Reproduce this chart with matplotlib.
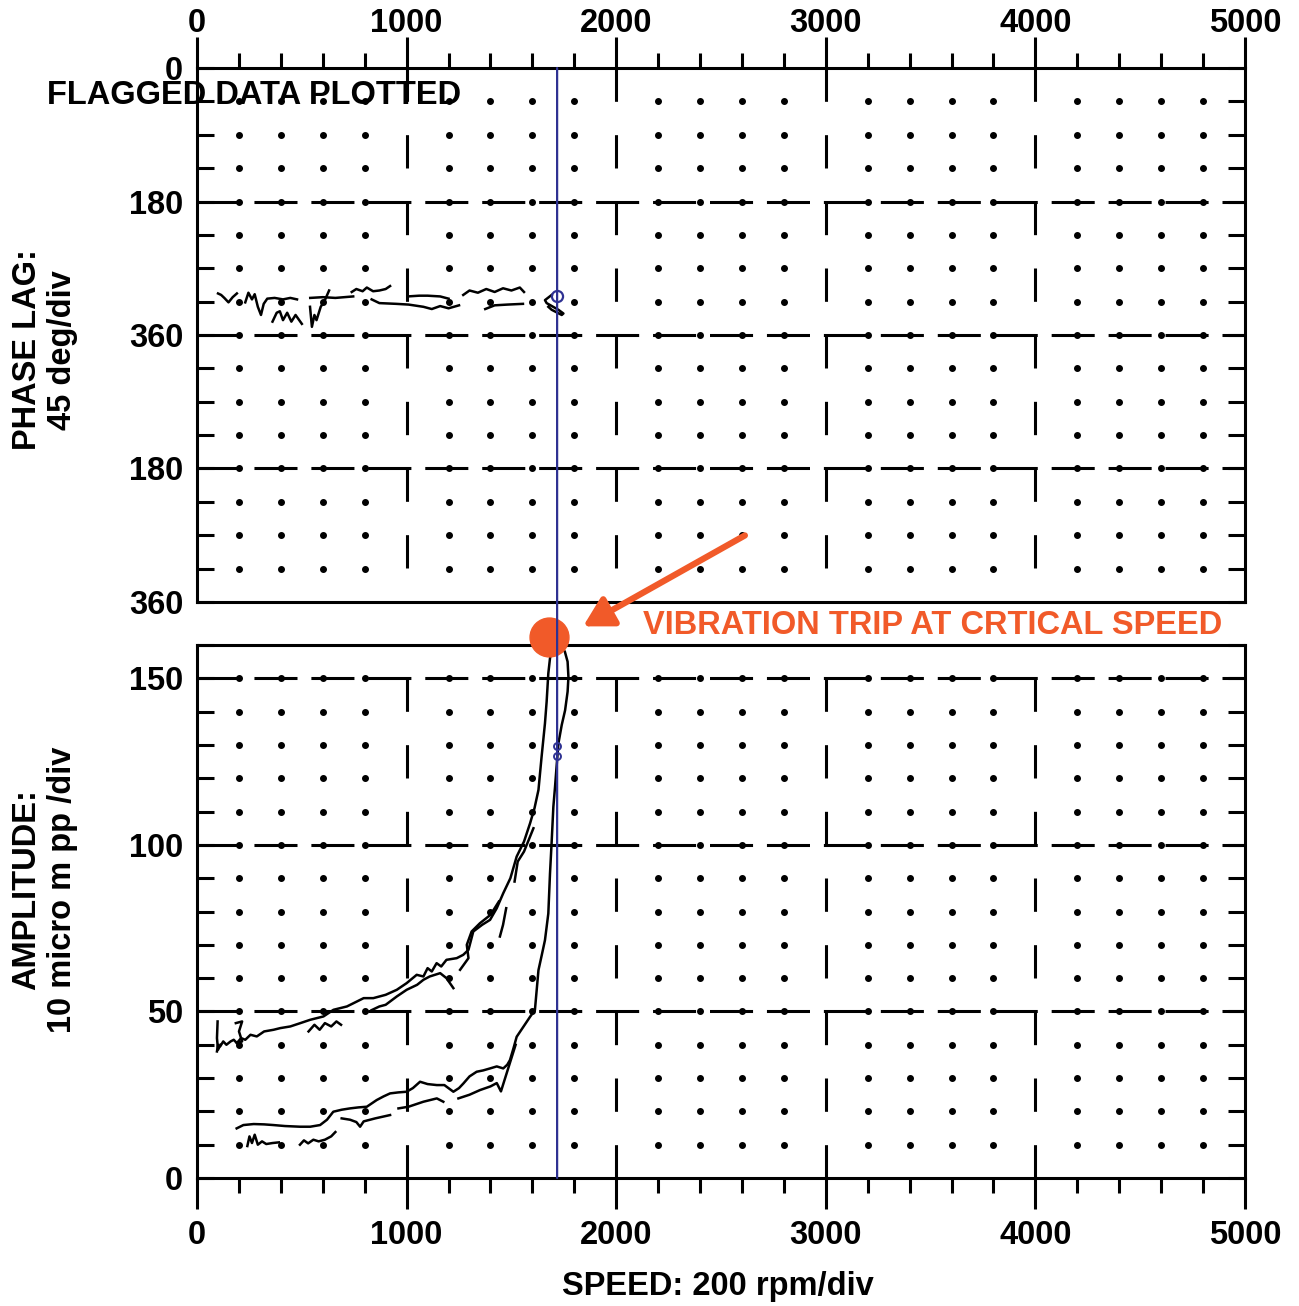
import numpy as np
import matplotlib.pyplot as plt
from matplotlib.patches import ConnectionPatch

plt.rcParams['font.family'] = ['Liberation Sans', 'DejaVu Sans']
plt.rcParams['font.weight'] = 'bold'
plt.rcParams['lines.scale_dashes'] = False

nan = np.nan

# ---- data (speed in rpm) ----
speed_ticks = [0, 1000, 2000, 3000, 4000, 5000]
phase_ticks = [0, 180, 360, 540, 720]
phase_labels = ['0', '180', '360', '180', '360']
amp_ticks = [0, 50, 100, 150]
trip_speed = 1718

# phase traces, upper strands (nan splits strokes)
ph_up_rpm = [100, 115, 130, 150, 170, 190, nan,
             230, 245, 262, 275, 290, 305, 318, 335, 370, 410, 445, 477, nan,
             540, 600, 660, 745, nan,
             738, 760, 790, 810, 840, 870, 900, 921, nan,
             1005, 1060, 1100, 1160, 1200, nan,
             1270, 1300, 1340, 1380, 1420, 1460, 1500, 1540, 1560]
ph_up_deg = [304, 306, 310, 316, 309, 304, nan,
             316, 303, 312, 305, 322, 333, 318, 311, 310, 312, 310, 312, nan,
             310, 309, 310, 308, nan,
             302, 298, 301, 296, 301, 300, 298, 294, nan,
             308, 307, 307, 308, 311, nan,
             306, 300, 303, 298, 302, 297, 300, 296, 302]

# phase traces, lower strands
ph_lo_rpm = [360, 380, 395, 410, 430, 450, 470, 500, nan,
             539, 548, 560, 570, 590, 610, 630, nan,
             833, 870, 950, 1010, 1080, 1120, 1160, 1200, 1250, nan,
             1375, 1420, 1480, 1555, nan,
             1692, 1660, 1668, 1724, 1748, 1740, 1692, 1676]
ph_lo_deg = [342, 330, 328, 340, 330, 342, 333, 345, nan,
             322, 349, 333, 340, 322, 313, 300, nan,
             312, 317, 318, 319, 322, 325, 321, 324, 320, nan,
             325, 320, 319, 318, nan,
             306, 313, 317, 326, 331, 333, 326, 322]

# amplitude, upper curve (coast down)
amp_up_rpm = [95, 100, 110, 125, 140, 160, 175, 190, 210, 230, 255, 285, 320,
              365, 397, 445, 493, 540, 603, 651, 715, 795, 841, 900, 953, 1000,
              1048, 1080, 1100, 1120, 1143, 1165, 1190, 1239, 1270, 1295, 1318,
              1360, 1398, 1430, 1461, 1495, 1525, 1560, 1589, 1610, 1629, 1644,
              1660, 1668, 1676, 1684, 1692]
amp_up = [38, 40, 39.5, 41, 40, 41, 41.5, 40.5, 42, 41.5, 43, 42.5, 44,
          44.5, 45, 45.5, 46.5, 47.5, 48.5, 50.5, 51.5, 54, 54, 55, 56.5, 58.5,
          61, 60.5, 63, 62, 64.5, 63.5, 65.5, 66, 67, 68.5, 74,
          76, 77.5, 81, 85.5, 90, 96.5, 101, 106.5, 111, 116.5, 126.5,
          136.5, 143, 151.5, 156, 158.5]

# amplitude, second strands beside the upper curve
amp_up2_rpm = [98, 95, 100, 112, nan,
               185, 215, 200, 215, 190, nan,
               532, 560, 585, 610, 640, 665, 687, nan,
               833, 870, 900, 953, 1000, 1050, 1080, 1110, 1160, 1190, 1223, nan,
               1255, 1295, 1287, 1310, 1350, 1400, 1440, nan,
               1605, 1560, 1530, 1515, nan,
               1475, 1460, 1445]
amp_up2 = [47, 42, 38.5, 40, nan,
           46.5, 47, 44, 41, 40.5, nan,
           44, 46, 44.5, 46.5, 45.5, 47, 46, nan,
           50.4, 51.5, 52, 54.5, 56.5, 58, 59.5, 60.5, 61.5, 60, 57, nan,
           62.5, 66, 70, 74, 76.5, 79, 83, nan,
           105, 98, 95, 89, nan,
           81, 76, 72.5]

# amplitude, lower curve (run up)
amp_lo_rpm = [189, 221, 270, 320, 364, 420, 491, 540, 587, 620, 650, 690, 730,
              770, 810, 857, 890, 921, 960, 1000, 1030, 1064, 1100, 1144, 1180,
              1223, 1250, 1271, 1300, 1334, 1365, 1398, 1430, 1461, 1480, 1493,
              1510, 1525, 1557, 1590, 1612, 1629, 1645, 1660, 1676, 1684, 1692,
              1700, 1708, 1716, 1724, 1740, 1756, 1768, 1772, 1768, 1755, 1740]
amp_lo = [14.9, 15.9, 16.2, 16.1, 15.9, 15.6, 15.4, 15.4, 15.9, 17.5, 19.9, 20.5, 20.9,
          21.2, 21.4, 23.4, 24.5, 25.4, 25.7, 25.9, 27, 28.9, 28.2, 27.9, 27.9,
          25.9, 27, 28.4, 30.5, 31.9, 32.3, 32.9, 33.5, 32.9, 34, 35.4,
          39, 42.4, 45.4, 48.5, 50.4, 62.4, 67, 71.4, 79.4, 91.4, 101,
          111.4, 117.4, 124, 130.4, 136, 140.4, 146, 150.4, 155, 158, 159.5]

# amplitude, short strokes around the lower curve
amp_lo2_rpm = [240, 250, 262, 275, 290, 310, 330, 360, 390, nan,
               491, 510, 530, 555, 580, 610, 640, 660, nan,
               690, 730, 760, 778, 795, 850, 921, nan,
               961, 1009, 1080, 1144, 1175, nan,
               1247, 1300, 1350, 1400, 1430, 1450, 1475, 1500, 1520]
amp_lo2 = [9.6, 12.5, 10.5, 13, 10, 11, 10.2, 10.5, 10.7, nan,
           10, 11.3, 10.4, 11.5, 11, 11.5, 12.5, 13.8, nan,
           17.9, 17.5, 16.8, 15.4, 17, 17.9, 18.9, nan,
           20.9, 21.4, 22.9, 23.9, 22.9, nan,
           23.9, 25, 26.4, 27.5, 28.5, 26, 31, 36, 40]

# blue marks on the trip-speed cursor
cursor_amp = [129.8, 126.8]
cursor_phase = [307]

# trip point
trip_rpm = 1680
trip_amp = 162.3

orange = '#F15A29'
blue = '#2E3192'
lw_frame = 2.2
fs = 23.5

fig = plt.figure(figsize=(12.99, 13.06), dpi=100)
ax1 = fig.add_axes([0.1517, 0.5391, 0.8067, 0.4088])
ax2 = fig.add_axes([0.1517, 0.0980, 0.8067, 0.4081])


def style_grid(ax, ymax, ystep, dashed_rows, flip):
    ax.set_xlim(0, 5000)
    if flip:
        ax.set_ylim(ymax, 0)
    else:
        ax.set_ylim(0, ymax)
    for s in ax.spines.values():
        s.set_linewidth(lw_frame)
    xs = [x for x in range(200, 5000, 200) if x % 1000]
    ys = [ystep * k for k in range(1, 16)]
    gx, gy = np.meshgrid(xs, ys)
    ax.plot(gx.ravel(), gy.ravel(), 'o', color='black', ms=4, zorder=1)
    for y in dashed_rows:
        ax.plot([0, 5000], [y, y], color='black', lw=lw_frame,
                dashes=(31, 10), zorder=1)
    for x in speed_ticks[1:-1]:
        ax.plot([x, x], [0, ymax], color='black', lw=lw_frame,
                dashes=(24, 24), zorder=1)
    ax.set_xticks(speed_ticks)
    ax.set_xticks(range(0, 5001, 200), minor=True)
    ax.set_yticks([ystep * k for k in range(17)], minor=True)
    ax.tick_params(axis='y', which='both', direction='in', length=12,
                   width=lw_frame, left=True, right=True, labelsize=fs, pad=10)
    ax.tick_params(axis='x', which='major', direction='out', length=22,
                   width=lw_frame, labelsize=fs)
    ax.tick_params(axis='x', which='minor', direction='out', length=11,
                   width=lw_frame)


style_grid(ax1, 720, 45, [180, 360, 540], True)
ax1.set_yticks(phase_ticks)
ax1.set_yticklabels(phase_labels)
ax1.tick_params(axis='x', which='both', top=True, bottom=False,
                labeltop=True, labelbottom=False)
ax1.tick_params(axis='x', which='major', pad=-1)

style_grid(ax2, 160, 10, [50, 100, 150], False)
ax2.set_yticks(amp_ticks)
ax2.tick_params(axis='x', which='both', top=False, bottom=True)
ax2.tick_params(axis='x', which='major', pad=8)

# traces
ax1.plot(ph_up_rpm, ph_up_deg, color='black', lw=1.8, zorder=3)
ax1.plot(ph_lo_rpm, ph_lo_deg, color='black', lw=1.8, zorder=3)
ax2.plot(amp_up_rpm, amp_up, color='black', lw=1.8, zorder=3)
ax2.plot(amp_up2_rpm, amp_up2, color='black', lw=1.8, zorder=3)
ax2.plot(amp_lo_rpm, amp_lo, color='black', lw=1.8, zorder=3)
ax2.plot(amp_lo2_rpm, amp_lo2, color='black', lw=1.8, zorder=3)

# trip speed cursor across both panels
cursor = ConnectionPatch(xyA=(trip_speed, 0), coordsA=ax2.transData,
                         xyB=(trip_speed, 0), coordsB=ax1.transData,
                         color=blue, lw=1.6, zorder=4)
fig.add_artist(cursor)
ax2.plot([trip_speed] * len(cursor_amp), cursor_amp, 'o', mfc='none',
         mec=blue, mew=1.4, ms=5, zorder=5)
ax1.plot([trip_speed] * len(cursor_phase), cursor_phase, 'o', mfc='none',
         mec=blue, mew=1.6, ms=8, zorder=5)

# trip marker and annotation
ax2.plot([trip_rpm], [trip_amp], 'o', color=orange, ms=28, clip_on=False,
         zorder=6)
ax2.annotate('', xy=(1842, 165.6), xytext=(2614, 192.9),
             annotation_clip=False,
             arrowprops=dict(arrowstyle='-|>,head_length=0.8,head_width=0.45',
                             color=orange, lw=4.5, mutation_scale=22,
                             shrinkA=0, shrinkB=0))
ax2.text(2128, 166, 'VIBRATION TRIP AT CRTICAL SPEED', color=orange,
         fontsize=fs, fontweight='bold', va='center', ha='left',
         clip_on=False)

fig.text(47 / 1299, 1 - 95 / 1306, 'FLAGGED DATA PLOTTED', fontsize=fs,
         fontweight='bold', va='center', ha='left', zorder=10)
fig.text(45 / 1299, 1 - 350 / 1306, 'PHASE LAG:\n45 deg/div', fontsize=fs,
         fontweight='bold', rotation=90, va='center', ha='center',
         multialignment='center', linespacing=1.2)
fig.text(45 / 1299, 1 - 890 / 1306, 'AMPLITUDE:\n10 micro m pp /div',
         fontsize=fs, fontweight='bold', rotation=90, va='center',
         ha='center', multialignment='center', linespacing=1.2)
fig.text(718 / 1299, 1 - 1287 / 1306, 'SPEED: 200 rpm/div', fontsize=fs,
         fontweight='bold', va='center', ha='center')

fig.savefig('out.png', dpi=100)
